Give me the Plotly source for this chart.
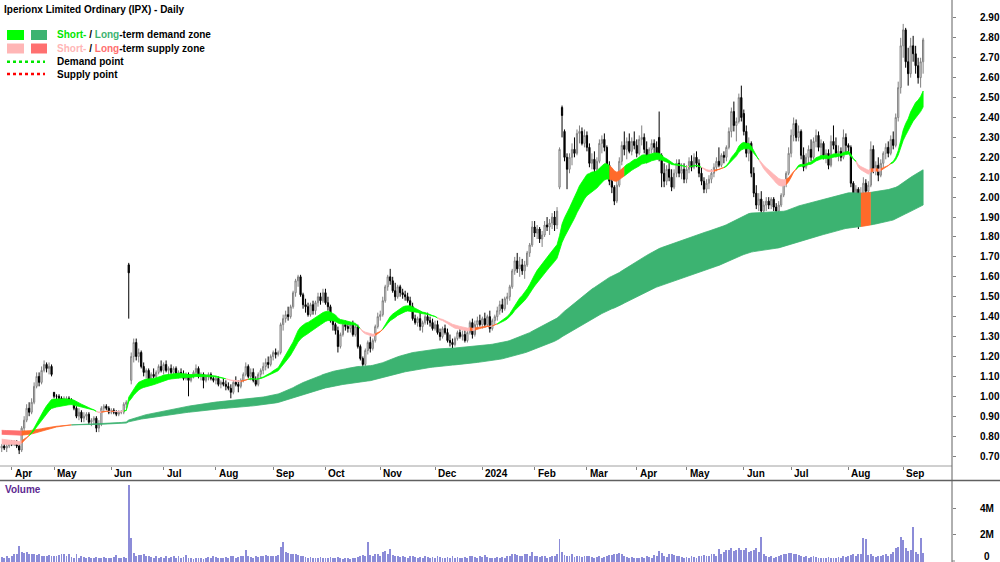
import numpy as np
import pandas as pd
import plotly.graph_objects as go

# ---------------- data ----------------
asx_holidays = ["2023-04-07", "2023-04-10", "2023-04-25", "2023-06-12", "2023-12-25", "2023-12-26",
                "2024-01-01", "2024-01-26", "2024-03-29", "2024-04-01", "2024-04-25", "2024-06-10"]
first_day, last_day = "2023-03-28", "2024-09-12"

month_labels = ["Apr", "May", "Jun", "Jul", "Aug", "Sep", "Oct", "Nov", "Dec", "2024",
                "Feb", "Mar", "Apr", "May", "Jun", "Jul", "Aug", "Sep"]
price_ticks = [0.70, 0.80, 0.90, 1.00, 1.10, 1.20, 1.30, 1.40, 1.50, 1.60, 1.70, 1.80,
               1.90, 2.00, 2.10, 2.20, 2.30, 2.40, 2.50, 2.60, 2.70, 2.80, 2.90]
volume_ticks = [2e6, 4e6]
volume_tick_text = ["2M", "4M"]

open_ = [
    .74, .75, .74, .75,
    .77, .76, .77, .75, .73, .84, .88, .94, .92, .97, 1.05, 1.10, 1.07, 1.13, 1.16, 1.14, 1.15,
    1.02, 1.00, 1.00, .99, .98, .99, .99, .98, .97, .94, .90, .92, .89, .90, .91, .87, .88, .89, .84, .86, .94, .95, .94,
    .92, .93, .92, .91, .92, .92, .96, 1.66, 1.08, 1.20, 1.27, 1.20, 1.22, 1.15, 1.12, 1.13, 1.08, 1.11, 1.10, 1.12, 1.15,
    1.13, 1.16, 1.13, 1.14, 1.12, 1.14, 1.11, 1.12, 1.11, 1.09, 1.11, 1.08, 1.10, 1.12, 1.14, 1.10, 1.11, 1.08, 1.10, 1.11, 1.09,
    1.08, 1.09, 1.06, 1.07, 1.06, 1.05, 1.04, 1.02, 1.07, 1.06, 1.05, 1.08, 1.11, 1.15, 1.10, 1.12, 1.08, 1.06, 1.11, 1.13, 1.15, 1.17, 1.16,
    1.20, 1.22, 1.21, 1.22, 1.36, 1.39, 1.41, 1.40, 1.45, 1.52, 1.58, 1.60, 1.51, 1.46, 1.45, 1.41, 1.46, 1.43, 1.47, 1.50, 1.48,
    1.52, 1.47, 1.45, 1.38, 1.36, 1.33, 1.25, 1.31, 1.36, 1.35, 1.34, 1.36, 1.31, 1.35, 1.25, 1.19, 1.16, 1.23, 1.27, 1.24, 1.28, 1.35,
    1.40, 1.41, 1.48, 1.55, 1.60, 1.58, 1.53, 1.50, 1.55, 1.52, 1.51, 1.50, 1.48, 1.45, 1.39, 1.37, 1.39, 1.35, 1.37, 1.40, 1.38, 1.37,
    1.34, 1.36, 1.32, 1.30, 1.34, 1.32, 1.28, 1.27, 1.26, 1.29, 1.32, 1.30, 1.31, 1.28, 1.32, 1.37, 1.31, 1.36, 1.38,
    1.36, 1.39, 1.36, 1.40, 1.34, 1.38, 1.40, 1.43, 1.46, 1.44, 1.49, 1.50, 1.55, 1.63, 1.68, 1.64, 1.66, 1.63, 1.66, 1.72, 1.76,
    1.85, 1.82, 1.84, 1.79, 1.81, 1.86, 1.85, 1.87, 1.90, 1.86, 2.05, 2.45, 2.33, 2.20, 2.14, 2.20, 2.24, 2.22, 2.32, 2.33, 2.27,
    2.31, 2.25, 2.17, 2.19, 2.14, 2.18, 2.27, 2.29, 2.25, 2.16, 2.08, 2.05, 1.98, 2.06, 2.18, 2.26, 2.24, 2.28, 2.23, 2.28,
    2.26, 2.22, 2.29, 2.30, 2.24, 2.19, 2.24, 2.27, 2.25, 2.30, 2.21, 2.12, 2.08, 2.14, 2.10, 2.05, 2.12, 2.17, 2.12, 2.14,
    2.09, 2.14, 2.18, 2.15, 2.20, 2.17, 2.12, 2.08, 2.04, 2.07, 2.09, 2.12, 2.15, 2.18, 2.16, 2.21, 2.20, 2.25, 2.33, 2.43, 2.36, 2.38, 2.50,
    2.42, 2.33, 2.22, 2.27, 2.12, 2.02, 1.96, 1.99, 1.93, 1.96, 1.98, 1.96, 1.99, 1.95, 1.93, 1.96, 2.01, 2.07, 2.12,
    2.22, 2.31, 2.37, 2.30, 2.33, 2.21, 2.15, 2.20, 2.24, 2.20, 2.28, 2.31, 2.25, 2.27, 2.21, 2.22, 2.16, 2.28, 2.26, 2.22, 2.23, 2.20, 2.30,
    2.26, 2.25, 2.07, 1.98, 2.04, 1.88, 2.02, 2.07, 2.03, 2.06, 2.24, 2.14, 2.16, 2.11, 2.17, 2.22, 2.25, 2.22, 2.29, 2.26, 2.40, 2.55,
    2.76, 2.84, 2.68, 2.62, 2.76, 2.72, 2.66, 2.60, 2.68,
]
high = [
    .76, .77, .76, .78,
    .78, .78, .78, .76, .85, .90, .96, .97, .99, 1.07, 1.12, 1.12, 1.15, 1.18, 1.17, 1.17, 1.16,
    1.02, 1.01, 1.01, 1.00, 1.00, 1.00, 1.00, .99, .98, .95, .94, .93, .92, .92, .92, .89, .90, .90, .88, .95, .96, .96, .95,
    .94, .94, .93, .93, .93, .97, .98, 1.67, 1.22, 1.29, 1.29, 1.24, 1.23, 1.17, 1.14, 1.14, 1.12, 1.14, 1.13, 1.16, 1.18,
    1.17, 1.18, 1.15, 1.16, 1.15, 1.15, 1.13, 1.14, 1.13, 1.12, 1.12, 1.11, 1.13, 1.16, 1.15, 1.12, 1.12, 1.11, 1.12, 1.12, 1.10,
    1.10, 1.10, 1.08, 1.09, 1.08, 1.07, 1.06, 1.08, 1.10, 1.08, 1.09, 1.12, 1.17, 1.16, 1.14, 1.14, 1.10, 1.12, 1.14, 1.17, 1.19, 1.20, 1.21,
    1.23, 1.24, 1.23, 1.37, 1.41, 1.43, 1.45, 1.46, 1.53, 1.59, 1.61, 1.61, 1.52, 1.49, 1.47, 1.47, 1.48, 1.48, 1.52, 1.52, 1.54,
    1.54, 1.50, 1.46, 1.40, 1.37, 1.35, 1.32, 1.37, 1.38, 1.37, 1.37, 1.38, 1.36, 1.36, 1.26, 1.20, 1.24, 1.28, 1.30, 1.29, 1.36, 1.42,
    1.43, 1.50, 1.56, 1.61, 1.64, 1.60, 1.57, 1.56, 1.56, 1.54, 1.53, 1.52, 1.50, 1.47, 1.41, 1.40, 1.42, 1.38, 1.41, 1.42, 1.40, 1.39,
    1.38, 1.38, 1.34, 1.35, 1.36, 1.34, 1.31, 1.29, 1.30, 1.33, 1.34, 1.33, 1.34, 1.33, 1.38, 1.39, 1.38, 1.40, 1.41,
    1.40, 1.42, 1.41, 1.43, 1.39, 1.41, 1.45, 1.48, 1.49, 1.50, 1.52, 1.56, 1.64, 1.70, 1.72, 1.70, 1.69, 1.68, 1.73, 1.77, 1.88,
    1.88, 1.86, 1.85, 1.83, 1.88, 1.90, 1.89, 1.92, 1.93, 1.95, 2.25, 2.46, 2.34, 2.22, 2.22, 2.27, 2.30, 2.34, 2.36, 2.35, 2.34,
    2.33, 2.27, 2.22, 2.23, 2.20, 2.29, 2.31, 2.32, 2.26, 2.18, 2.12, 2.06, 2.08, 2.20, 2.28, 2.33, 2.30, 2.32, 2.30, 2.33,
    2.29, 2.31, 2.36, 2.32, 2.28, 2.25, 2.29, 2.29, 2.28, 2.43, 2.22, 2.17, 2.16, 2.18, 2.14, 2.14, 2.19, 2.19, 2.17, 2.17,
    2.16, 2.20, 2.21, 2.22, 2.23, 2.19, 2.15, 2.10, 2.09, 2.11, 2.14, 2.17, 2.20, 2.25, 2.22, 2.23, 2.26, 2.35, 2.45, 2.48, 2.40, 2.52, 2.56,
    2.44, 2.36, 2.30, 2.28, 2.15, 2.06, 2.02, 2.03, 1.98, 2.00, 2.00, 2.00, 2.00, 1.97, 1.98, 2.02, 2.08, 2.13, 2.25,
    2.34, 2.40, 2.39, 2.36, 2.34, 2.25, 2.22, 2.26, 2.29, 2.30, 2.34, 2.33, 2.29, 2.28, 2.24, 2.24, 2.31, 2.36, 2.30, 2.26, 2.25, 2.34, 2.32,
    2.27, 2.26, 2.08, 2.06, 2.05, 2.05, 2.10, 2.09, 2.08, 2.28, 2.26, 2.18, 2.20, 2.19, 2.23, 2.27, 2.28, 2.31, 2.33, 2.42, 2.58, 2.80,
    2.87, 2.85, 2.75, 2.80, 2.81, 2.76, 2.70, 2.70, 2.80,
]
low = [
    .72, .73, .72, .74,
    .75, .75, .74, .71, .72, .82, .87, .90, .91, .96, 1.04, 1.05, 1.06, 1.12, 1.12, 1.11, 1.10,
    .99, .98, .98, .97, .97, .98, .97, .96, .93, .89, .88, .87, .87, .88, .86, .85, .86, .82, .82, .85, .92, .93, .91,
    .91, .91, .90, .90, .91, .91, .94, 1.39, 1.06, 1.17, 1.18, 1.17, 1.14, 1.10, 1.09, 1.07, 1.07, 1.09, 1.08, 1.11, 1.12,
    1.11, 1.12, 1.10, 1.11, 1.10, 1.10, 1.09, 1.10, 1.08, 1.08, 1.00, 1.07, 1.09, 1.10, 1.09, 1.08, 1.04, 1.07, 1.08, 1.08, 1.07,
    1.06, 1.05, 1.04, 1.05, 1.03, 1.03, .99, 1.01, 1.05, 1.02, 1.04, 1.07, 1.10, 1.09, 1.08, 1.07, 1.05, 1.05, 1.09, 1.11, 1.13, 1.14, 1.15,
    1.18, 1.19, 1.20, 1.21, 1.33, 1.37, 1.38, 1.39, 1.44, 1.50, 1.55, 1.50, 1.44, 1.42, 1.40, 1.40, 1.41, 1.41, 1.45, 1.46, 1.47,
    1.46, 1.43, 1.37, 1.33, 1.31, 1.22, 1.24, 1.30, 1.33, 1.32, 1.32, 1.30, 1.30, 1.24, 1.18, 1.12, 1.15, 1.21, 1.22, 1.23, 1.27, 1.34,
    1.38, 1.40, 1.47, 1.53, 1.56, 1.52, 1.48, 1.49, 1.50, 1.49, 1.48, 1.47, 1.44, 1.38, 1.36, 1.35, 1.33, 1.32, 1.36, 1.36, 1.35, 1.33,
    1.33, 1.31, 1.28, 1.29, 1.31, 1.27, 1.25, 1.24, 1.25, 1.28, 1.29, 1.28, 1.27, 1.27, 1.31, 1.29, 1.30, 1.34, 1.35,
    1.34, 1.35, 1.35, 1.32, 1.33, 1.36, 1.38, 1.41, 1.42, 1.43, 1.46, 1.48, 1.54, 1.61, 1.62, 1.60, 1.61, 1.59, 1.65, 1.70, 1.75,
    1.80, 1.79, 1.77, 1.75, 1.80, 1.83, 1.81, 1.84, 1.83, 1.84, 2.04, 2.30, 2.18, 2.04, 2.12, 2.16, 2.20, 2.21, 2.27, 2.26, 2.25,
    2.23, 2.15, 2.14, 2.12, 2.10, 2.17, 2.22, 2.23, 2.14, 2.06, 2.02, 1.96, 1.97, 2.05, 2.16, 2.21, 2.19, 2.22, 2.21, 2.24,
    2.20, 2.21, 2.26, 2.22, 2.17, 2.18, 2.22, 2.22, 2.20, 2.18, 2.05, 2.05, 2.06, 2.08, 2.03, 2.04, 2.10, 2.10, 2.09, 2.07,
    2.07, 2.12, 2.13, 2.14, 2.15, 2.10, 2.06, 2.02, 2.02, 2.04, 2.07, 2.10, 2.13, 2.15, 2.15, 2.17, 2.18, 2.24, 2.30, 2.33, 2.28, 2.37, 2.38,
    2.31, 2.20, 2.18, 2.10, 2.00, 1.94, 1.93, 1.91, 1.91, 1.93, 1.94, 1.94, 1.93, 1.91, 1.92, 1.95, 2.00, 2.05, 2.11,
    2.20, 2.28, 2.28, 2.28, 2.19, 2.13, 2.14, 2.17, 2.18, 2.19, 2.25, 2.23, 2.20, 2.19, 2.17, 2.14, 2.15, 2.24, 2.20, 2.18, 2.18, 2.19, 2.22,
    2.22, 2.05, 1.95, 1.95, 1.84, 1.87, 1.99, 2.00, 2.00, 2.05, 2.12, 2.11, 2.08, 2.10, 2.15, 2.19, 2.20, 2.21, 2.24, 2.25, 2.38, 2.52,
    2.70, 2.65, 2.56, 2.60, 2.68, 2.62, 2.57, 2.55, 2.62,
]
close = [
    .75, .74, .75, .77,
    .76, .77, .75, .73, .84, .88, .94, .92, .97, 1.05, 1.10, 1.07, 1.13, 1.16, 1.14, 1.15, 1.11,
    1.00, 1.00, .99, .98, .99, .99, .98, .97, .94, .90, .92, .89, .90, .91, .87, .88, .89, .84, .86, .94, .95, .94, .92,
    .93, .92, .91, .92, .92, .96, .97, 1.62, 1.20, 1.27, 1.20, 1.22, 1.15, 1.12, 1.13, 1.08, 1.11, 1.10, 1.12, 1.15, 1.13,
    1.16, 1.13, 1.14, 1.12, 1.14, 1.11, 1.12, 1.11, 1.09, 1.11, 1.08, 1.10, 1.12, 1.14, 1.10, 1.11, 1.08, 1.10, 1.11, 1.09, 1.08,
    1.09, 1.06, 1.07, 1.06, 1.05, 1.04, 1.02, 1.07, 1.06, 1.05, 1.08, 1.11, 1.15, 1.10, 1.12, 1.08, 1.06, 1.11, 1.13, 1.15, 1.17, 1.16, 1.20,
    1.22, 1.21, 1.22, 1.36, 1.39, 1.41, 1.40, 1.45, 1.52, 1.58, 1.60, 1.51, 1.46, 1.45, 1.41, 1.46, 1.43, 1.47, 1.50, 1.48, 1.52,
    1.47, 1.45, 1.38, 1.36, 1.33, 1.25, 1.31, 1.36, 1.35, 1.34, 1.36, 1.31, 1.35, 1.25, 1.19, 1.16, 1.23, 1.27, 1.24, 1.28, 1.35, 1.40,
    1.41, 1.48, 1.55, 1.60, 1.58, 1.53, 1.50, 1.55, 1.52, 1.51, 1.50, 1.48, 1.45, 1.39, 1.37, 1.39, 1.35, 1.37, 1.40, 1.38, 1.37, 1.34,
    1.36, 1.32, 1.30, 1.34, 1.32, 1.28, 1.27, 1.26, 1.29, 1.32, 1.30, 1.31, 1.28, 1.32, 1.37, 1.31, 1.36, 1.38, 1.36,
    1.39, 1.36, 1.40, 1.34, 1.38, 1.40, 1.43, 1.46, 1.44, 1.49, 1.50, 1.55, 1.63, 1.68, 1.64, 1.66, 1.63, 1.66, 1.72, 1.76, 1.85,
    1.82, 1.84, 1.79, 1.81, 1.86, 1.85, 1.87, 1.90, 1.86, 1.93, 2.24, 2.41, 2.20, 2.14, 2.20, 2.24, 2.22, 2.32, 2.33, 2.27, 2.31,
    2.25, 2.17, 2.19, 2.14, 2.18, 2.27, 2.29, 2.25, 2.16, 2.08, 2.05, 1.98, 2.06, 2.18, 2.26, 2.24, 2.28, 2.23, 2.28, 2.26,
    2.22, 2.29, 2.30, 2.24, 2.19, 2.24, 2.27, 2.25, 2.22, 2.21, 2.12, 2.08, 2.14, 2.10, 2.05, 2.12, 2.17, 2.12, 2.14, 2.09,
    2.14, 2.18, 2.15, 2.20, 2.17, 2.12, 2.08, 2.04, 2.07, 2.09, 2.12, 2.15, 2.18, 2.16, 2.21, 2.20, 2.25, 2.33, 2.43, 2.36, 2.38, 2.50, 2.40,
    2.33, 2.22, 2.27, 2.12, 2.02, 1.96, 1.99, 1.93, 1.96, 1.98, 1.96, 1.99, 1.95, 1.93, 1.96, 2.01, 2.07, 2.12, 2.22,
    2.31, 2.37, 2.30, 2.33, 2.21, 2.15, 2.20, 2.24, 2.20, 2.28, 2.31, 2.25, 2.27, 2.21, 2.22, 2.16, 2.28, 2.26, 2.22, 2.23, 2.20, 2.30, 2.26,
    2.25, 2.07, 1.98, 2.04, 1.88, 2.02, 2.07, 2.03, 2.06, 2.24, 2.14, 2.16, 2.11, 2.17, 2.22, 2.25, 2.22, 2.29, 2.26, 2.40, 2.55, 2.76,
    2.84, 2.68, 2.62, 2.76, 2.72, 2.66, 2.60, 2.68, 2.79,
]
volume_m = [
    0.35, 0.25, 0.4, 0.3,
    0.45, 0.6, 0.55, 1.15, 0.75, 0.65, 0.7, 0.6, 0.6, 0.55, 0.5, 0.55, 0.45, 0.45, 0.4, 0.5, 0.45,
    0.45, 0.4, 0.5, 0.55, 0.55, 0.4, 0.6, 0.35, 0.3, 0.55, 0.3, 0.4, 0.35, 0.3, 0.35, 0.25, 0.3, 0.35, 0.3, 0.3, 0.35, 0.25, 0.3,
    0.3, 0.35, 0.5, 0.3, 0.25, 0.35, 0.3, 5.73, 1.8, 0.65, 0.45, 0.5, 0.5, 0.55, 0.4, 0.45, 0.35, 0.3, 0.4, 0.3, 0.35,
    0.3, 0.4, 0.25, 0.35, 0.4, 0.3, 0.45, 0.25, 0.35, 0.5, 0.3, 0.25, 0.2, 0.3, 0.25, 0.3, 0.2, 0.25, 0.35, 0.3, 0.4,
    0.35, 0.3, 0.25, 0.3, 0.35, 0.3, 0.4, 0.45, 0.3, 0.35, 0.4, 0.45, 0.85, 0.4, 0.35, 0.3, 0.4, 0.35, 0.45, 0.4, 0.5, 0.4, 0.45,
    0.4, 0.45, 0.5, 1.1, 1.5, 0.7, 0.65, 0.6, 0.55, 0.6, 0.5, 0.45, 0.4, 0.35, 0.3, 0.35, 0.3, 0.25, 0.3, 0.35, 0.3,
    0.3, 0.25, 0.35, 0.3, 0.25, 0.35, 0.3, 0.2, 0.25, 0.3, 0.2, 0.25, 0.3, 0.35, 0.45, 0.5, 0.4, 1.5, 0.5, 0.4, 0.55, 0.6,
    0.45, 0.7, 0.8, 0.55, 0.96, 0.5, 0.4, 0.45, 0.35, 0.4, 0.35, 0.3, 0.4, 0.45, 0.35, 0.3, 0.35, 0.3, 0.4, 0.35, 0.3, 0.35,
    0.3, 0.4, 0.35, 0.3, 0.25, 0.35, 0.3, 0.4, 0.3, 0.35, 0.25, 0.3, 0.35, 0.3, 0.45, 0.4, 0.35, 0.3, 0.4,
    0.35, 0.5, 0.35, 0.3, 0.3, 0.25, 0.35, 0.3, 0.35, 0.3, 0.4, 0.45, 0.55, 0.6, 0.5, 0.45, 0.4, 0.55, 0.6, 0.45, 0.7,
    0.45, 0.4, 0.35, 0.45, 0.4, 0.3, 0.35, 0.4, 0.45, 0.6, 1.68, 0.75, 0.5, 0.45, 0.4, 0.55, 0.35, 0.4, 0.45, 0.35, 0.4,
    0.4, 0.45, 0.35, 0.3, 0.35, 0.4, 0.3, 0.35, 0.45, 0.5, 0.5, 0.55, 0.6, 0.65, 0.55, 0.45, 0.35, 0.3, 0.35, 0.3,
    0.3, 0.25, 0.35, 0.3, 0.4, 0.35, 0.3, 0.5, 0.45, 0.8, 0.65, 0.4, 0.35, 0.55, 0.6, 0.5, 0.45, 0.4, 0.35, 0.3,
    0.35, 0.3, 0.4, 0.35, 0.3, 0.45, 0.4, 0.5, 0.45, 0.4, 0.6, 0.55, 0.45, 0.96, 0.6, 0.75, 0.9, 0.85, 1.0, 0.8, 0.9, 1.05, 0.9,
    0.85, 1.0, 0.7, 0.8, 0.9, 1.05, 0.75, 1.86, 0.6, 0.45, 0.35, 0.4, 0.3, 0.35, 0.4, 0.5, 0.55, 0.6, 0.65,
    0.65, 0.6, 0.55, 0.5, 0.45, 0.35, 0.4, 0.3, 0.35, 0.45, 0.35, 0.3, 0.3, 0.25, 0.3, 0.35, 0.3, 0.25, 0.3, 0.35, 0.3, 0.4, 0.35,
    0.45, 0.5, 0.6, 0.45, 0.55, 0.6, 1.78, 1.7, 0.5, 0.55, 0.4, 0.35, 0.4, 0.45, 0.5, 0.55, 0.45, 0.6, 0.7, 1.0, 1.1, 1.86,
    1.65, 1.0, 0.8, 0.9, 2.58, 0.75, 0.6, 1.8, 0.65,
]

# trend-zone settings (EMA periods) and the indicator levels at the left edge of the picture
short_periods = (20, 30)
long_periods = (150, 240)
short_seed = (0.762, 0.787)
long_seed = (0.81, 0.83)
# periods where price closed through a demand zone (zone drawn orange)
short_zone_alert = [("2024-03-14", "2024-03-21")]
long_zone_alert = [("2024-08-08", "2024-08-13")]

# ---------------- build ----------------
dates = pd.bdate_range(first_day, last_day)
dates = dates[~dates.isin(pd.to_datetime(asx_holidays))]
N = len(dates)
for arr in (open_, high, low, close, volume_m):
    assert len(arr) == N, (len(arr), N)
xi = np.arange(N)
closes = np.array(close)

mk = dates.to_period("M")
month_starts = [i for i in range(1, N) if mk[i] != mk[i - 1]]


def ema(vals, n, seed):
    a = 2.0 / (n + 1)
    e = seed
    out = []
    for v in vals:
        e = e + a * (v - e)
        out.append(e)
    return np.array(out)


def alert_mask(ranges):
    m = np.zeros(N, dtype=bool)
    for a, b in ranges:
        m |= (dates >= pd.Timestamp(a)) & (dates <= pd.Timestamp(b))
    return m


GREEN, LGREEN = "#00ff00", "#3cb371"
PINK, SALMON, ORANGE = "#ffb6b6", "#ff7070", "#ff6a2a"


def zone_traces(fast, slow, slow_seed, demand_c, supply_c, mask):
    st = []
    for i in range(N):
        if mask[i]:
            st.append(ORANGE)
        elif fast[i] >= slow[i]:
            st.append(demand_c)
        else:
            prev = slow[i - 1] if i > 0 else slow_seed
            st.append(ORANGE if slow[i] > prev else supply_c)
    out = []
    i = 0
    while i < N:
        j = i
        while j + 1 < N and st[j + 1] == st[i]:
            j += 1
        e = min(j + 1, N - 1)
        xs = list(xi[i:e + 1]) + list(xi[i:e + 1][::-1])
        ys = list(fast[i:e + 1]) + list(slow[i:e + 1][::-1])
        out.append(go.Scatter(x=xs, y=ys, fill="toself", fillcolor=st[i], mode="lines",
                              line=dict(width=0.8, color=st[i]), hoverinfo="skip",
                              showlegend=False, xaxis="x", yaxis="y"))
        i = j + 1
    return out


s_fast = ema(closes, short_periods[0], short_seed[0])
s_slow = ema(closes, short_periods[1], short_seed[1])
l_fast = ema(closes, long_periods[0], long_seed[0])
l_slow = ema(closes, long_periods[1], long_seed[1])

fig = go.Figure()
for t in zone_traces(l_fast, l_slow, long_seed[1], LGREEN, SALMON, alert_mask(long_zone_alert)):
    fig.add_trace(t)
for t in zone_traces(s_fast, s_slow, short_seed[1], GREEN, PINK, alert_mask(short_zone_alert)):
    fig.add_trace(t)

fig.add_trace(go.Candlestick(
    x=xi, open=open_, high=high, low=low, close=close,
    increasing=dict(line=dict(color="#808080", width=1), fillcolor="#ffffff"),
    decreasing=dict(line=dict(color="#000000", width=1), fillcolor="#000000"),
    whiskerwidth=0, hoverinfo="skip", showlegend=False, xaxis="x", yaxis="y"))

fig.add_trace(go.Bar(x=xi, y=np.array(volume_m) * 1e6, width=0.36,
                     marker=dict(color="#8c8cd8", line=dict(width=0)),
                     hoverinfo="skip", showlegend=False, xaxis="x2", yaxis="y2"))

W, H, PLOT_W = 1000, 562, 952


def PX(x):
    return x / PLOT_W


def PY(y):
    return 1 - y / H


FONT = "Liberation Sans, Arial, sans-serif"
x_range = [-0.7, 381.6]

fig.update_layout(
    width=W, height=H, margin=dict(l=0, r=W - PLOT_W, t=0, b=0),
    paper_bgcolor="white", plot_bgcolor="white", showlegend=False,
    font=dict(family=FONT, size=10, color="black"),
    xaxis=dict(domain=[0, 1], range=x_range, anchor="y", showgrid=False, zeroline=False,
               tickmode="array", tickvals=month_starts, showticklabels=False,
               ticks="outside", ticklen=3, tickcolor="#808080", rangeslider=dict(visible=False)),
    yaxis=dict(domain=[PY(466), 1], range=[0.650, 2.990], side="right", showgrid=False,
               zeroline=False, tickmode="array", tickvals=price_ticks,
               ticktext=[f"{v:.2f}" for v in price_ticks], ticks="outside", ticklen=3,
               tickcolor="#808080", tickfont=dict(family=FONT, size=10, color="black", weight="bold"),
               ticklabelstandoff=22),
    xaxis2=dict(domain=[0, 1], range=x_range, anchor="y2", matches="x", showgrid=False,
                zeroline=False, showticklabels=False, ticks=""),
    yaxis2=dict(domain=[0, PY(481)], range=[-0.03e6, 6.03e6], side="right", showgrid=False,
                zeroline=False, tickmode="array", tickvals=volume_ticks, ticktext=volume_tick_text,
                ticks="outside", ticklen=3, tickcolor="#808080",
                tickfont=dict(family=FONT, size=10, color="black", weight="bold"),
                ticklabelstandoff=22),
    bargap=0,
)

shapes = [
    dict(type="line", xref="paper", yref="paper", x0=0, x1=1, y0=PY(466), y1=PY(466),
         line=dict(color="#a0a0a0", width=1)),
    dict(type="line", xref="paper", yref="paper", x0=0, x1=W / PLOT_W, y0=PY(480.5), y1=PY(480.5),
         line=dict(color="#606060", width=1.5)),
    dict(type="line", xref="paper", yref="paper", x0=1, x1=1, y0=0, y1=1,
         line=dict(color="#606060", width=1)),
    dict(type="line", xref="paper", yref="paper", x0=1, x1=PX(955), y0=PY(561), y1=PY(561),
         line=dict(color="#808080", width=1)),
    # legend swatches
    dict(type="rect", xref="paper", yref="paper", x0=PX(7), x1=PX(24), y0=PY(40), y1=PY(30),
         fillcolor=GREEN, line=dict(width=0)),
    dict(type="rect", xref="paper", yref="paper", x0=PX(31), x1=PX(47), y0=PY(40), y1=PY(30),
         fillcolor=LGREEN, line=dict(width=0)),
    dict(type="rect", xref="paper", yref="paper", x0=PX(7), x1=PX(24), y0=PY(53.5), y1=PY(43.5),
         fillcolor=PINK, line=dict(width=0)),
    dict(type="rect", xref="paper", yref="paper", x0=PX(31), x1=PX(47), y0=PY(53.5), y1=PY(43.5),
         fillcolor=SALMON, line=dict(width=0)),
    dict(type="line", xref="paper", yref="paper", x0=PX(7), x1=PX(45), y0=PY(61.7), y1=PY(61.7),
         line=dict(color="#00e600", width=2.5, dash="dot")),
    dict(type="line", xref="paper", yref="paper", x0=PX(7), x1=PX(45), y0=PY(74), y1=PY(74),
         line=dict(color="#ff0000", width=2.5, dash="dot")),
]
fig.update_layout(shapes=shapes)

bold = dict(family=FONT, size=10, color="black", weight="bold")
ann = [
    dict(text="Iperionx Limited Ordinary (IPX) - Daily", x=PX(2), y=PY(9), xref="paper", yref="paper",
         xanchor="left", yanchor="middle", showarrow=False, font=bold),
    dict(text="<span style='color:#00e600'>Short-</span> / <span style='color:#3cb371'>Long</span>-term demand zone",
         x=PX(55), y=PY(35), xref="paper", yref="paper", xanchor="left", yanchor="middle",
         showarrow=False, font=bold),
    dict(text="<span style='color:#ffb6b6'>Short-</span> / <span style='color:#ff6f6f'>Long</span>-term supply zone",
         x=PX(55), y=PY(48.3), xref="paper", yref="paper", xanchor="left", yanchor="middle",
         showarrow=False, font=bold),
    dict(text="Demand point", x=PX(55), y=PY(61.7), xref="paper", yref="paper", xanchor="left",
         yanchor="middle", showarrow=False, font=bold),
    dict(text="Supply point", x=PX(55), y=PY(74), xref="paper", yref="paper", xanchor="left",
         yanchor="middle", showarrow=False, font=bold),
    dict(text="Volume", x=PX(3), y=PY(489), xref="paper", yref="paper", xanchor="left",
         yanchor="middle", showarrow=False, font=dict(family=FONT, size=10, color="#5d2a91", weight="bold")),
    # zero label of the volume axis, kept just inside the bottom edge
    dict(text="0", x=PX(992), y=PY(556), xref="paper", yref="paper", xanchor="right",
         yanchor="middle", showarrow=False, font=bold),
]
for idx, lab in zip(month_starts, month_labels):
    ann.append(dict(text=lab, x=idx, y=PY(474), xref="x", yref="paper", xanchor="left",
                    yanchor="middle", xshift=1, showarrow=False, font=bold))
fig.update_layout(annotations=ann)

fig.write_html("out.html")
